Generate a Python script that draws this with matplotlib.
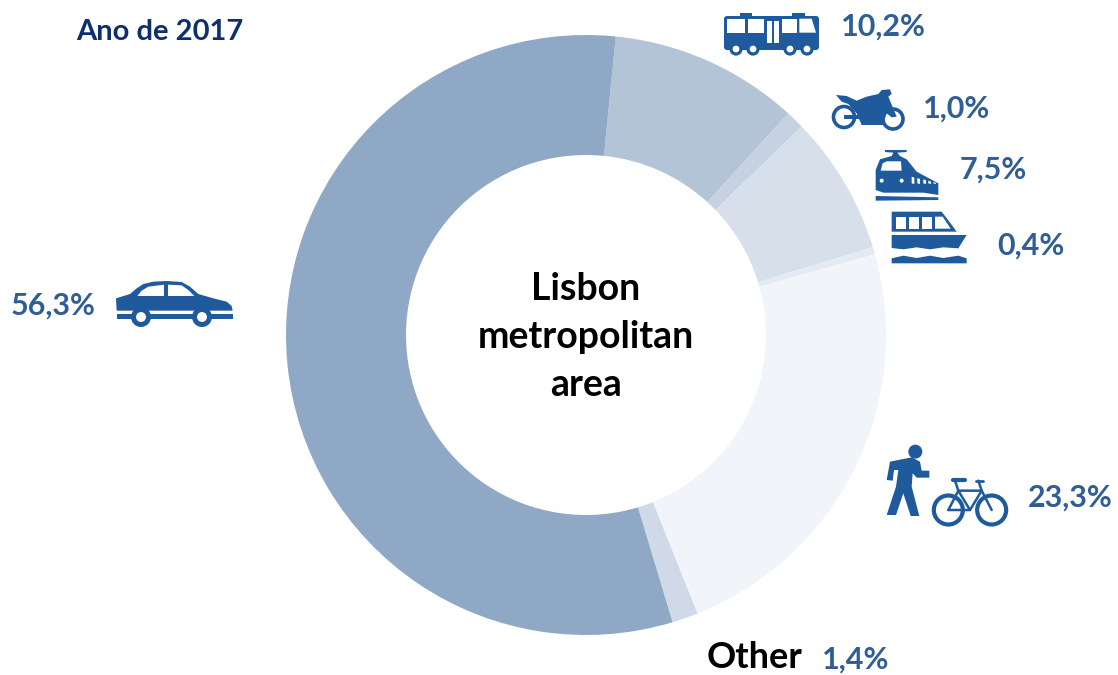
import matplotlib
matplotlib.use('Agg')
import matplotlib.pyplot as plt
from matplotlib.patches import Polygon, Circle, FancyBboxPatch, Rectangle

modes = ['bus', 'motorcycle', 'train', 'boat', 'walk_bike', 'other', 'car']
shares = [10.2, 1.0, 7.5, 0.4, 23.3, 1.4, 56.3]
share_labels = ['10,2%', '1,0%', '7,5%', '0,4%', '23,3%', '1,4%', '56,3%']
colors = ['#B3C4D7', '#C6D2E1', '#D6DFEA', '#E4EAF1', '#F1F5F9', '#CFD9E7', '#8FA8C5']

ICON = '#1F5A9C'
LABEL = '#2F5E96'
plt.rcParams['font.family'] = ['Lato', 'DejaVu Sans']

W, H = 1118, 675
fig = plt.figure(figsize=(W / 100, H / 100), dpi=100)

# donut
ax = fig.add_axes([286 / W, (H - 635) / H, 600 / W, 600 / H])
ax.pie(shares, colors=colors, startangle=84.3, counterclock=False, radius=1,
       wedgeprops=dict(width=0.4, linewidth=0))
ax.set_xlim(-1, 1)
ax.set_ylim(-1, 1)

# overlay in pixel coordinates for text and icons
ov = fig.add_axes([0, 0, 1, 1])
ov.set_xlim(0, W)
ov.set_ylim(H, 0)
ov.axis('off')


def poly(pts, ox, oy, color=ICON):
    ov.add_patch(Polygon([(ox + x / 3, oy + y / 3) for x, y in pts], closed=True, fc=color, ec='none'))


def ring(cx, cy, r, lw=2.5):
    ov.add_patch(Circle((cx, cy), r, fc='white', ec=ICON, lw=lw))


# bus
ox, oy = 710, 0
ov.add_patch(FancyBboxPatch((724, 16), 95, 34, boxstyle='round,pad=0,rounding_size=3', fc=ICON, ec='none'))
poly([(90, 38), (125, 38), (125, 50), (90, 50)], ox, oy)
poly([(245, 38), (285, 38), (285, 50), (245, 50)], ox, oy)
for pts in ([(50, 56), (105, 56), (105, 98), (50, 98)],
            [(113, 56), (163, 56), (163, 98), (113, 98)],
            [(215, 56), (260, 56), (260, 98), (215, 98)],
            [(268, 56), (305, 56), (318, 98), (268, 98)],
            [(172, 62), (186, 62), (186, 130), (172, 130)],
            [(193, 62), (207, 62), (207, 130), (193, 130)]):
    poly(pts, ox, oy, 'white')
for cx in (736, 753, 790, 807):
    ring(cx, 49, 5, 2.3)

# motorcycle
ox, oy = 710, 0
ring(844, 117, 10.5, 2.6)
ring(893, 119, 10, 2.6)
ov.add_patch(Rectangle((844, 115), 16, 4, fc=ICON, ec='none'))
poly([(378, 285), (410, 288), (440, 302), (470, 290), (505, 282), (515, 270), (540, 268), (545, 282), (535, 290),
      (560, 350), (545, 352), (530, 340), (518, 375), (455, 375), (440, 340), (415, 312), (395, 305)], ox, oy)

# train
poly([(525, 450), (590, 450), (590, 456), (562, 458), (570, 468), (590, 478), (620, 515), (685, 550), (685, 585),
      (640, 578), (575, 578), (520, 578), (497, 570), (497, 510), (510, 478), (545, 468), (550, 458), (525, 456)], ox, oy)
poly([(512, 512), (575, 512), (573, 484), (530, 484), (518, 490)], ox, oy, 'white')
for x in (605, 622, 640, 655, 670):
    poly([(x, 530 + (x - 605) // 4), (x + 8, 533 + (x - 605) // 4), (x + 8, 552), (x, 550)], ox, oy, 'white')
poly([(497, 588), (685, 592), (685, 600), (497, 602)], ox, oy)
ov.add_patch(Circle((710 + 515 / 3, 542 / 3), 2, fc='white', ec='none'))
ov.add_patch(Circle((710 + 575 / 3, 542 / 3), 2, fc='white', ec='none'))

# boat
poly([(545, 635), (695, 635), (718, 665), (740, 695), (545, 695)], ox, oy)
for pts in ([(558, 650), (588, 650), (588, 686), (558, 686)],
            [(597, 650), (627, 650), (627, 686), (597, 686)],
            [(636, 650), (666, 650), (666, 686), (636, 686)],
            [(675, 650), (698, 650), (722, 686), (675, 686)]):
    poly(pts, ox, oy, 'white')
poly([(545, 705), (770, 705), (745, 745), (700, 742), (660, 748), (620, 742), (580, 748), (545, 744)], ox, oy)
poly([(545, 775), (580, 767), (620, 774), (660, 767), (700, 774), (745, 767), (770, 775), (770, 790), (545, 790)], ox, oy)

# car
ox, oy = 0, 270
poly([(348, 85), (390, 72), (410, 55), (430, 42), (460, 35), (500, 33), (545, 36), (570, 50), (595, 72), (640, 85),
      (680, 95), (695, 108), (698, 122), (350, 122)], ox, oy)
poly([(412, 78), (425, 62), (445, 50), (492, 44), (492, 78)], ox, oy, 'white')
poly([(504, 44), (545, 46), (565, 60), (583, 78), (504, 78)], ox, oy, 'white')
poly([(350, 131), (700, 131), (700, 146), (350, 146)], ox, oy)
ring(141, 317, 7.5, 3.6)
ring(202, 317, 7.5, 3.6)

# walker
ox, oy = 870, 430
ov.add_patch(Circle((870 + 136 / 3, 430 + 65 / 3), 7, fc=ICON, ec='none'))
poly([(60, 95), (125, 82), (150, 95), (155, 122), (178, 122), (178, 143), (140, 143), (128, 130), (125, 170),
      (148, 258), (122, 258), (100, 190), (78, 255), (50, 255), (78, 170), (85, 120), (72, 120), (68, 152), (50, 150)], ox, oy)

# bicycle
for cx in (870 + 235 / 3, 870 + 365 / 3):
    ov.add_patch(Circle((cx, 430 + 240 / 3), 14.5, fc='none', ec=ICON, lw=3))
for xs, ys in (([235, 265, 335, 365], [240, 182, 182, 240]), ([235, 300, 335], [240, 240, 182]),
               ([265, 300], [182, 240]), ([265, 255], [182, 152]), ([335, 325], [182, 152])):
    ov.plot([870 + x / 3 for x in xs], [430 + y / 3 for y in ys], color=ICON, lw=1.8, solid_capstyle='round')
ov.plot([870 + 248 / 3, 870 + 285 / 3], [430 + 150 / 3] * 2, color=ICON, lw=3, solid_capstyle='round')
ov.plot([870 + 318 / 3, 870 + 340 / 3], [430 + 152 / 3] * 2, color=ICON, lw=2, solid_capstyle='round')

# labels
label_pos = dict(zip(modes, [(841, 27), (923, 109), (960, 170), (997, 246), (1028, 498), (822, 660), (11, 306)]))
for mode, text in zip(modes, share_labels):
    x, y = label_pos[mode]
    ov.text(x, y, text, color=LABEL, fontsize=22, fontweight='bold', ha='left', va='center')

ov.text(160, 32, 'Ano de 2017', color='#0D2F6E', fontsize=21, fontweight='bold', ha='center', va='center')
ov.text(754, 657, 'Other', color='black', fontsize=26, fontweight='bold', ha='center', va='center')
for y, text in zip((289, 337, 385), ('Lisbon', 'metropolitan', 'area')):
    ov.text(586, y, text, color='black', fontsize=27, fontweight='bold', ha='center', va='center')

fig.savefig('out.png', dpi=100)
